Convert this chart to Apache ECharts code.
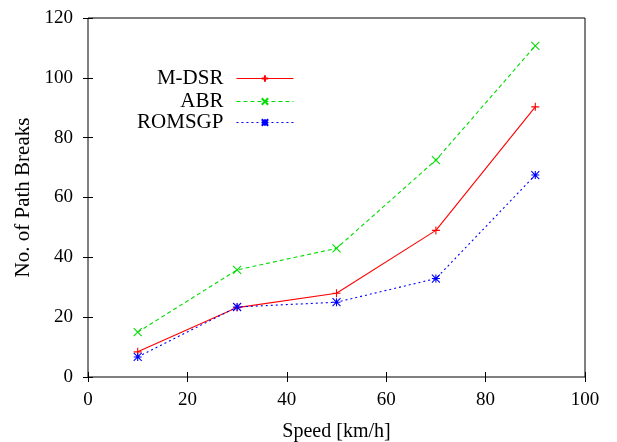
<!DOCTYPE html>
<html><head><meta charset="utf-8">
<script src="https://cdn.jsdelivr.net/npm/echarts@6/dist/echarts.min.js"></script>
<style>html,body{margin:0;padding:0;background:#fff}#c{width:617px;height:442px}</style>
</head><body><div id="c"></div>
<script>
const speeds = [10, 30, 50, 70, 90];
const mdsr = [8.4, 23.2, 28, 49, 90.3];
const abr = [15, 35.8, 43, 72.5, 110.7];
const romsgp = [6.7, 23.4, 25, 32.9, 67.5];
const xTicks = [0, 20, 40, 60, 80, 100];
const yTicks = [0, 20, 40, 60, 80, 100, 120];
const seriesNames = ['M-DSR', 'ABR', 'ROMSGP'];

const FONT = 'Liberation Serif';
const plus = 'path://M0,5L10,5M5,0L5,10';
const cross = 'path://M0,0L10,10M0,10L10,0';
const star = 'path://M0,5L10,5M5,0L5,10M0,0L10,10M0,10L10,0';

function pairs(ys){ return speeds.map((x,i)=>[x, ys[i]]); }
function mk(name, ys, color, type, sym){
  return {
    name, type:'line', data: pairs(ys), symbol: sym, symbolSize: 8,
    lineStyle:{color, width:1.1, type},
    itemStyle:{color:'none', borderColor:color, borderWidth:1.1},
    emphasis:{disabled:true}, animation:false
  };
}
const chart = echarts.init(document.getElementById('c'), null, {renderer:'canvas'});
const axisCommon = {
  type:'value', splitLine:{show:false},
  axisLine:{show:false},
  axisTick:{inside:true, length:5, lineStyle:{color:'#000'}},
};
function legend(name, top){
  return {
    data:[name], right: 318, top, orient:'vertical', align:'right',
    itemWidth: 57, itemHeight: 8, itemGap: 13,
    lineStyle:{width:1.1},
    textStyle:{fontFamily:FONT, fontSize:21, color:'#000', padding:[0,8,0,0]},
    selectedMode:false
  };
}
chart.setOption({
  animation:false,
  grid:{left:88, right:32, top:18, bottom:65, show:true, borderColor:'#000', borderWidth:1, containLabel:false, outerBoundsMode:'none'},
  legend:[legend('M-DSR', 63), legend('ABR', 86), legend('ROMSGP', 107)],
  xAxis:[
    Object.assign({}, axisCommon, {min:xTicks[0], max:xTicks[xTicks.length-1], interval:20, position:'bottom',
      name:'Speed [km/h]', nameLocation:'middle', nameGap:45,
      nameTextStyle:{fontFamily:FONT, fontSize:20, color:'#000'},
      axisLabel:{fontFamily:FONT, fontSize:19, color:'#000', margin:14}}),
    Object.assign({}, axisCommon, {min:xTicks[0], max:xTicks[xTicks.length-1], interval:20, position:'top', axisLabel:{show:false}})
  ],
  yAxis:[
    Object.assign({}, axisCommon, {min:yTicks[0], max:yTicks[yTicks.length-1], interval:20, position:'left',
      name:'No. of Path Breaks', nameLocation:'middle', nameGap:54,
      nameTextStyle:{fontFamily:FONT, fontSize:21, color:'#000'},
      axisLabel:{fontFamily:FONT, fontSize:19, color:'#000', margin:15}}),
    Object.assign({}, axisCommon, {min:yTicks[0], max:yTicks[yTicks.length-1], interval:20, position:'right', axisLabel:{show:false}})
  ],
  series:[
    mk(seriesNames[0], mdsr, '#ff0000', 'solid', plus),
    mk(seriesNames[1], abr, '#00dd00', [4,3], cross),
    mk(seriesNames[2], romsgp, '#0000ff', [2,3], star)
  ]
});
</script></body></html>
